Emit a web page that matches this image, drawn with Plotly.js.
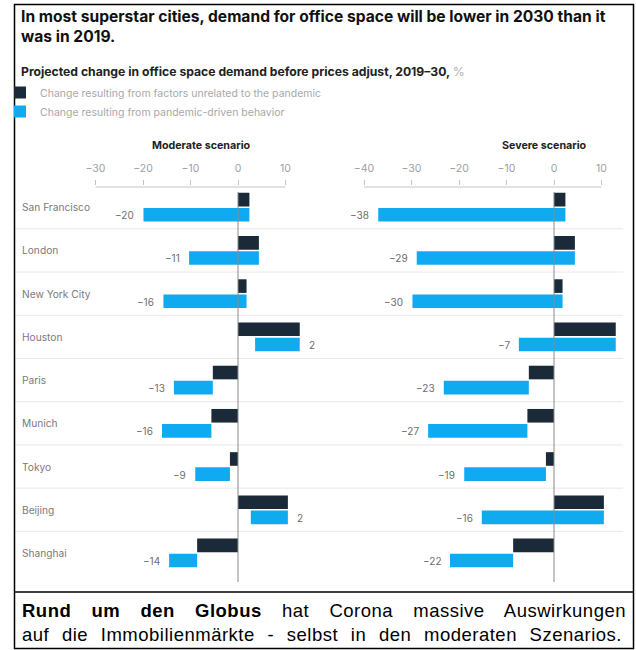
<!DOCTYPE html>
<html><head><meta charset="utf-8">
<script src="https://cdn.plot.ly/plotly-3.0.1.min.js"></script>
<style>html,body{margin:0;padding:0;background:#fff;overflow:hidden}#chart{width:636px;height:650px}</style>
</head><body><div id="chart"></div>
<script>
// ---- data ----
const cities = ["San Francisco","London","New York City","Houston","Paris","Munich","Tokyo","Beijing","Shanghai"];
const nonPandemic = [2.4, 4.4, 1.8, 13.0, -5.3, -5.6, -1.7, 10.5, -8.6];
const pandemicModerate = [-22.3, -14.7, -17.5, -9.4, -8.2, -10.4, -7.3, -7.8, -5.9];
const pandemicSevere = [-39.4, -33.3, -31.6, -20.4, -17.9, -20.9, -17.2, -25.7, -13.3];
const totalModerate = [-20, -11, -16, 2, -13, -16, -9, 2, -14];
const totalSevere = [-38, -29, -30, -7, -23, -27, -19, -16, -22];
const ticksModerate = [-30, -20, -10, 0, 10];
const ticksSevere = [-40, -30, -20, -10, 0, 10];
const legendNames = ["Change resulting from factors unrelated to the pandemic","Change resulting from pandemic-driven behavior"];

// ---- style ----
const W = 636, H = 650;
const px = x => x / W, py = y => 1 - y / H;
const DARK = "#1b2a38", BLUE = "#10aaf0";
const FONT = "Inter, 'Open Sans', sans-serif";
const CAPFONT = "'Liberation Sans', Arial, sans-serif";
const minus = v => (v < 0 ? "\u2212" + Math.abs(v) : String(v));

const traces = [
  {type:"bar", orientation:"h", y:cities, x:nonPandemic, xaxis:"x", yaxis:"y",
   marker:{color:DARK}, name:legendNames[0], legendgroup:"a", hoverinfo:"skip"},
  {type:"bar", orientation:"h", y:cities, x:pandemicModerate, base:nonPandemic, xaxis:"x", yaxis:"y",
   marker:{color:BLUE}, name:legendNames[1], legendgroup:"b", hoverinfo:"skip"},
  {type:"bar", orientation:"h", y:cities, x:nonPandemic, xaxis:"x2", yaxis:"y2",
   marker:{color:DARK}, name:legendNames[0], legendgroup:"a", showlegend:false, hoverinfo:"skip"},
  {type:"bar", orientation:"h", y:cities, x:pandemicSevere, base:nonPandemic, xaxis:"x2", yaxis:"y2",
   marker:{color:BLUE}, name:legendNames[1], legendgroup:"b", showlegend:false, hoverinfo:"skip"}
];

const yDomain = [py(574.6), py(185.6)];
const xCommon = {side:"top", showgrid:false, zeroline:false, showline:false, ticks:"outside",
  ticklen:5, tickcolor:"#c4c4c4", tickwidth:1, tickfont:{family:FONT, size:10.5, color:"#a0a0a0"},
  ticklabelstandoff:3, fixedrange:true, automargin:false};
const yCommon = {type:"category", categoryarray:cities, range:[8.5,-0.5], showticklabels:false,
  showgrid:false, zeroline:false, showline:false, ticks:"", domain:yDomain, fixedrange:true, automargin:false};

const annotations = [];
const shapes = [];
// title
annotations.push({xref:"paper", yref:"paper", x:px(19), y:py(26), xanchor:"left", yanchor:"middle", align:"left",
  text:"<b>In most superstar cities, demand for office space will be lower in 2030 than it<br>was in 2019.</b>",
  showarrow:false, font:{family:FONT, size:15.6, color:"#111"}});
// city labels
cities.forEach((c,i)=>annotations.push({xref:"paper", yref:"y", x:px(20), y:c, xanchor:"left", yanchor:"middle",
  text:c, showarrow:false, font:{family:FONT, size:10.2, color:"#7a7a7a"}}));
// value labels
function addLabels(totals, pand, xref, yref){
  totals.forEach((t,i)=>{
    const a = nonPandemic[i], b = nonPandemic[i] + pand[i];
    const pos = t >= 0;
    annotations.push({xref:xref, yref:yref, x: pos ? Math.max(a,b) : Math.min(a,b), y:cities[i],
      xanchor: pos ? "left" : "right", xshift: pos ? 7 : -7, yshift:-8, yanchor:"middle",
      text:minus(t), showarrow:false, font:{family:FONT, size:10, color:"#6e6e6e"}});
  });
}
addLabels(totalModerate, pandemicModerate, "x", "y");
addLabels(totalSevere, pandemicSevere, "x2", "y2");

// panel titles
annotations.push({xref:"paper", yref:"paper", x:px(201), y:py(145), xanchor:"center", yanchor:"middle",
  text:"<b>Moderate scenario</b>", showarrow:false, font:{family:FONT, size:10.7, color:"#222"}});
annotations.push({xref:"paper", yref:"paper", x:px(544), y:py(145), xanchor:"center", yanchor:"middle",
  text:"<b>Severe scenario</b>", showarrow:false, font:{family:FONT, size:10.7, color:"#222"}});
// subtitle
annotations.push({xref:"paper", yref:"paper", x:px(19), y:py(71), xanchor:"left", yanchor:"middle",
  text:"<b>Projected change in office space demand before prices adjust, 2019\u201330, </b><span style='color:#b0b0b0'>%</span>",
  showarrow:false, font:{family:FONT, size:12.2, color:"#222"}});
// caption
annotations.push({xref:"paper", yref:"paper", x:px(20), y:py(622), xanchor:"left", yanchor:"middle", align:"left",
  text:"<b>Rund um den Globus</b> hat Corona massive Auswirkungen<br>auf die Immobilienmärkte - selbst in den moderaten Szenarios.",
  showarrow:false, font:{family:CAPFONT, size:18.5, color:"#000"}});

// row separators
for(let i=0;i<cities.length-1;i++){
  shapes.push({type:"line", xref:"paper", yref:"y", x0:px(15), x1:px(623), y0:i+0.5, y1:i+0.5,
    line:{color:"#e8e8e8", width:1}, layer:"below"});
}
// axis lines & zero lines
shapes.push({type:"line", xref:"x", yref:"paper", x0:ticksModerate[0], x1:ticksModerate[ticksModerate.length-1],
  y0:py(187), y1:py(187), line:{color:"#c4c4c4", width:1}});
shapes.push({type:"line", xref:"x2", yref:"paper", x0:ticksSevere[0], x1:ticksSevere[ticksSevere.length-1],
  y0:py(187), y1:py(187), line:{color:"#c4c4c4", width:1}});
shapes.push({type:"line", xref:"x", yref:"paper", x0:0, x1:0, y0:py(192), y1:py(582), line:{color:"#8a8a8a", width:1}});
shapes.push({type:"line", xref:"x2", yref:"paper", x0:0, x1:0, y0:py(192), y1:py(582), line:{color:"#8a8a8a", width:1}});
// frame
shapes.push({type:"rect", xref:"paper", yref:"paper", x0:px(14.5), x1:px(633.5), y0:py(4.5), y1:py(648.5),
  line:{color:"#000", width:1.5}});
shapes.push({type:"line", xref:"paper", yref:"paper", x0:px(14.5), x1:px(633.5), y0:py(592), y1:py(592),
  line:{color:"#000", width:1.5}});

const layout = {
  width:W, height:H, margin:{l:0,r:0,t:0,b:0,autoexpand:false}, paper_bgcolor:"#fff", plot_bgcolor:"rgba(0,0,0,0)",
  font:{family:FONT},
  barmode:"group", bargap:0.3, bargroupgap:0.1,
  xaxis:Object.assign({}, xCommon, {domain:[px(15), px(318)], range:[(15-238)/4.75, (318-238)/4.75],
    tickvals:ticksModerate, anchor:"y"}),
  yaxis:Object.assign({}, yCommon, {anchor:"x"}),
  xaxis2:Object.assign({}, xCommon, {domain:[px(320), px(626)], range:[(320-554)/4.75, (626-554)/4.75],
    tickvals:ticksSevere, anchor:"y2"}),
  yaxis2:Object.assign({}, yCommon, {anchor:"x2"}),
  showlegend:true,
  legend:{x:px(0), y:py(78), xanchor:"left", yanchor:"top", orientation:"v", bgcolor:"rgba(0,0,0,0)",
    font:{family:FONT, size:10.5, color:"#a8a8a8"}, tracegroupgap:0, itemwidth:30},
  annotations:annotations, shapes:shapes
};

// stretch each caption line to the frame width (justified text, like the reference)
function justifyCaption(){
  document.querySelectorAll(".annotation-text").forEach(t=>{
    if(!t.textContent.startsWith("Rund")) return;
    const lines = t.querySelectorAll("tspan.line");
    const target = [604, 600];
    lines.forEach((ln,k)=>{
      ln.style.letterSpacing = "0.5px";
      const w = ln.getComputedTextLength();
      const spaces = (ln.textContent.match(/ /g)||[]).length;
      const extra = (target[k] || 600) - w;
      if(spaces && extra > 0) ln.style.wordSpacing = (extra/spaces).toFixed(2) + "px";
    });
  });
}
Plotly.newPlot("chart", traces, layout, {displayModeBar:false, staticPlot:true}).then(justifyCaption);
</script></body></html>
